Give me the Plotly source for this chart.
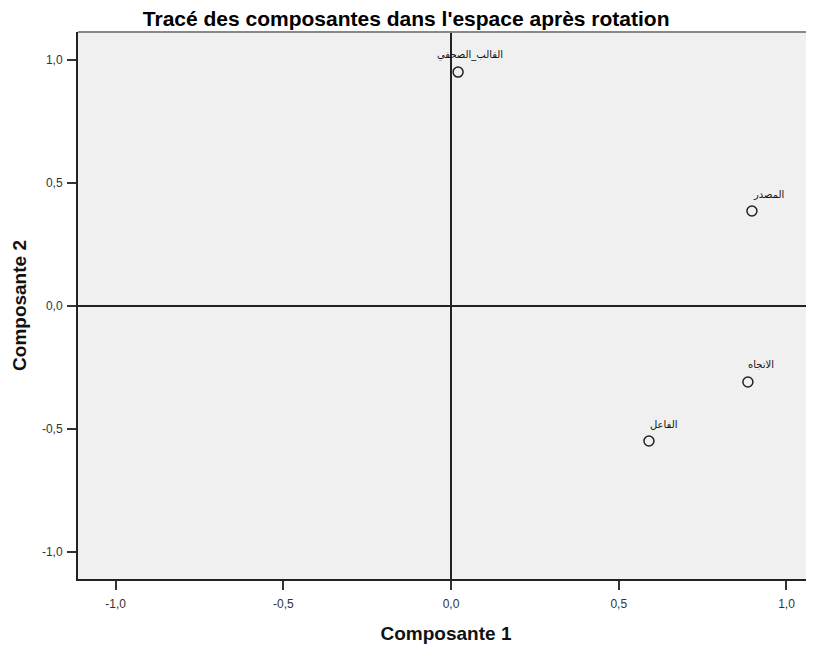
import plotly.graph_objects as go

labels = ["القالب_الصحفي", "المصدر", "الاتجاه", "الفاعل"]
comp1 = [0.021, 0.897, 0.885, 0.590]
comp2 = [0.951, 0.386, -0.309, -0.549]
tick_vals = [-1.0, -0.5, 0.0, 0.5, 1.0]
tick_text = ["-1,0", "-0,5", "0,0", "0,5", "1,0"]

label_anchor = ["center", "left", "left", "left"]
label_xshift = [12, -1, -2, -1]

fig = go.Figure()
fig.add_trace(go.Scatter(
    x=comp1, y=comp2, mode="markers",
    marker=dict(symbol="circle-open", size=10, color="#222222", line=dict(width=1.5)),
    hoverinfo="skip", showlegend=False,
))

for lab, x, y, anc, xs in zip(labels, comp1, comp2, label_anchor, label_xshift):
    fig.add_annotation(x=x, y=y, text=lab, showarrow=False, xanchor=anc, yanchor="middle",
                       xshift=xs, yshift=17,
                       font=dict(family="DejaVu Sans", size=10, color="#111111"))

fig.add_shape(type="line", xref="paper", yref="paper", x0=0, x1=1, y0=1, y1=1,
              line=dict(color="#888888", width=2), layer="above")

fig.update_layout(
    width=806, height=637,
    margin=dict(l=70, r=0, t=24, b=66),
    paper_bgcolor="white", plot_bgcolor="#f0f0f0",
    title=dict(text="<b>Tracé des composantes dans l'espace après rotation</b>",
               x=0.494, xanchor="center", xref="container", yref="container", y=0.984, yanchor="middle",
               font=dict(family="Liberation Sans", size=21, color="#000000")),
    font=dict(family="Liberation Sans", size=12, color="#333333"),
)
fig.update_xaxes(
    range=[-1.112, 1.082], tickvals=tick_vals, ticktext=tick_text,
    showgrid=False, zeroline=True, zerolinecolor="#222222", zerolinewidth=2,
    showline=True, linecolor="#222222", linewidth=2,
    ticks="outside", ticklen=9, tickwidth=2, tickcolor="#333333",
    ticklabelstandoff=4,
    tickfont=dict(size=12, color="#333333"),
    title=dict(text="<b>Composante 1</b>", font=dict(size=19, color="#111111"), standoff=16),
)
fig.update_yaxes(
    range=[-1.11, 1.114], tickvals=tick_vals, ticktext=tick_text,
    showgrid=False, zeroline=True, zerolinecolor="#222222", zerolinewidth=2,
    showline=True, linecolor="#222222", linewidth=2,
    ticks="outside", ticklen=9, tickwidth=2, tickcolor="#333333",
    ticklabelstandoff=2,
    tickfont=dict(size=12, color="#333333"),
    title=dict(text="<b>Composante 2</b>", font=dict(size=19, color="#111111"), standoff=10),
)

fig.write_html("out.html")
